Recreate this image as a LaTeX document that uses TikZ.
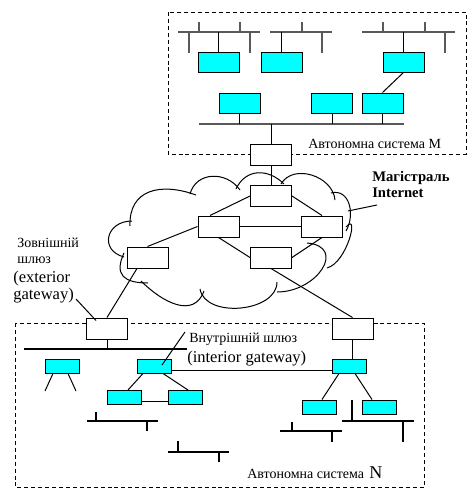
\documentclass[tikz,border=0pt]{standalone}
\usepackage{fontspec}
\setmainfont{Liberation Serif}
\usetikzlibrary{calc}
\definecolor{cyanbox}{RGB}{0,255,255}
\begin{document}
\begin{tikzpicture}[x=0.75pt,y=0.75pt,
  wbox/.style={draw=black, fill=white, line width=0.75pt, minimum width=30.75pt, minimum height=15.75pt, inner sep=0pt},
  cbox/.style={draw=black, fill=cyanbox, line width=0.75pt, minimum width=30.75pt, minimum height=15pt, inner sep=0pt},
  sbox/.style={cbox, minimum width=25.5pt, minimum height=10.5pt},
  bus/.style={line width=1.5pt, black!65},
  lbus/.style={line width=1.1pt, black},
  link/.style={line width=0.75pt, black},
  cloudline/.style={line width=0.75pt, black},
  asbox/.style={line width=0.75pt, dash pattern=on 3pt off 2.2pt},
  ua/.style={font=\fontsize{10.5}{12}\selectfont, inner sep=0pt, anchor=base west},
  en/.style={font=\fontsize{12.4}{14}\selectfont, inner sep=0pt, anchor=base west},
  bo/.style={font=\fontsize{11}{13}\selectfont\bfseries, inner sep=0pt, anchor=base west}]
\useasboundingbox (0,0) rectangle (472,-496);

% ---------- dashed autonomous system frames
\draw[asbox] (168,-12) rectangle (466,-154);
\draw[asbox] (15,-323) rectangle (424,-487);

% ---------- cloud
\draw[cloudline] (130,-226) to[out=92,in=160,looseness=1.3] (196,-195);
\draw[cloudline] (190,-194) to[out=75,in=125,looseness=1.2] (240,-190);
\draw[cloudline] (236,-189) to[out=65,in=135,looseness=1.2] (284,-184);
\draw[cloudline] (281,-184) to[out=60,in=95,looseness=1.1] (335,-200);
\draw[cloudline] (331,-193) to[out=15,in=60,looseness=1.2] (346,-231);
\draw[cloudline] (346,-227) to[out=50,in=15,looseness=1.2] (327,-268);
\draw[cloudline] (307,-243) to[out=-5,in=0,looseness=1.8] (277,-292);
\draw[cloudline] (277,-282) to[out=-90,in=-80,looseness=1.0] (200,-289);
\draw[cloudline] (204,-291) to[out=-110,in=-45,looseness=1.2] (141,-281);
\draw[cloudline] (148,-283) to[out=180,in=-115,looseness=1.6] (124,-253);
\draw[cloudline] (124,-257) to[out=165,in=180,looseness=1.8] (132,-221);

% ---------- top AS buses
\coordinate (busA) at (178,-32); \coordinate (busAe) at (260,-32);
\coordinate (busB) at (270,-32); \coordinate (busBe) at (332,-32);
\coordinate (busC) at (362,-32); \coordinate (busCe) at (455,-32);
\coordinate (busD) at (199,-124); \coordinate (busDe) at (404,-124);
\draw[bus] (busA) -- (busAe);
\draw[bus] (199,-22) -- (199,-32) (240,-22) -- (240,-32) (189,-32) -- (189,-53) (250,-32) -- (250,-53);
\draw[bus] (busB) -- (busBe);
\draw[bus] (302,-22) -- (302,-32) (322,-32) -- (322,-53);
\draw[bus] (busC) -- (busCe);
\draw[bus] (383,-22) -- (383,-32) (425,-22) -- (425,-32) (445,-32) -- (445,-53);
\draw[bus] (busD) -- (busDe);

% ---------- lower AS buses
\coordinate (busE) at (24,-349); \coordinate (busEe) at (187,-349);
\coordinate (busF) at (87,-421); \coordinate (busFe) at (158,-421);
\coordinate (busG) at (168,-452); \coordinate (busGe) at (229,-452);
\coordinate (busH) at (280,-431); \coordinate (busHe) at (342,-431);
\coordinate (busI) at (342,-421); \coordinate (busIe) at (414,-421);
\draw[lbus] (busE) -- (busEe);
\draw[lbus] (busF) -- (busFe);
\draw[lbus] (96,-412) -- (96,-421) (147,-421) -- (147,-431);
\draw[lbus] (busG) -- (busGe);
\draw[lbus] (178,-441) -- (178,-452) (219,-452) -- (219,-462);
\draw[lbus] (busH) -- (busHe);
\draw[lbus] (292,-422) -- (292,-431) (332,-431) -- (332,-442);
\draw[lbus] (busI) -- (busIe);
\draw[lbus] (352,-400) -- (352,-421) (403,-421) -- (403,-442);

% ---------- nodes (top AS)
\node[cbox] (C1) at (218.5,-62) {};
\node[cbox] (C2) at (281.5,-62) {};
\node[cbox] (C3) at (403.5,-62) {};
\node[cbox] (C4) at (239.5,-103) {};
\node[cbox] (C5) at (332,-103) {};
\node[cbox] (C6) at (382.5,-103) {};

% ---------- routers
\node[wbox] (RT) at (271,-155) {};
\node[wbox] (R1) at (271,-196) {};
\node[wbox] (R2) at (218.5,-226.5) {};
\node[wbox] (R3) at (322,-226.5) {};
\node[wbox] (R4) at (271,-257.5) {};
\node[wbox] (R5) at (147.5,-257.5) {};
\node[wbox] (RE) at (107,-328.5) {};
\node[wbox] (RR) at (352.5,-328.5) {};

% ---------- lower AS boxes
\node[sbox] (L1) at (62.5,-366) {};
\node[sbox] (L2) at (154.5,-366) {};
\node[sbox] (L3) at (124,-397.5) {};
\node[sbox] (L4) at (185.5,-397.5) {};
\node[sbox] (RC) at (349.5,-366) {};
\node[sbox] (R3c) at (319,-407) {};
\node[sbox] (R4c) at (379.5,-407) {};

% ---------- connectors top AS
\draw[link] (C1.north) -- (C1.north |- busA);
\draw[link] (C2.north) -- (C2.north |- busB);
\draw[link] (C3.north) -- (C3.north |- busC);
\draw[link] (C3.south) -- (C6.north);
\draw[link] (C4.south) -- (C4.south |- busD);
\draw[link] (C5.south) -- (C5.south |- busD);
\draw[link] (C6.south) -- (C6.south |- busD);
\draw[link] (RT.north) -- (RT.north |- busD);

% ---------- backbone connectors
\draw[link] (RT.south) -- (R1.north);
\draw[link] (R1.west) -- ($(R2.north)+(-8.5,0)$);
\draw[link] (R2.west) -- (R5.north);
\draw[link] (R1.east) -- (R3.north);
\draw[link] (R2.east) -- (R3.west);
\draw[link] (R2.south) -- (R4.west);
\draw[link] (R3.south) -- (R4.east);
\draw[link] ($(R5.south)+(-10.5,0)$) -- (RE.north);
\draw[link] (R4.south) -- (RR.north);

% ---------- lower AS connectors
\draw[link] (RE.south) -- (RE.south |- busE);
\draw[link] ($(L1.north)+(3,0)$) -- ($(L1.north)+(3,0)$ |- busE);
\draw[link] ($(L2.north)+(2.5,0)$) -- ($(L2.north)+(2.5,0)$ |- busE);
\coordinate (legA) at (45,-391); \coordinate (legB) at (76,-391);
\draw[link] ($(L1.south)+(-9.5,0)$) -- (legA);
\draw[link] ($(L1.south)+(5.5,0)$) -- (legB);
\draw[link] ($(L2.south)+(-11.5,0)$) -- ($(L3.north)+(4,0)$);
\draw[link] ($(L2.south)+(8.5,0)$) -- ($(L4.north)+(2.5,0)$);
\draw[link] ($(L3.east)+(0,-3.5)$) -- ($(L4.west)+(0,-3.5)$);
\draw[link] ($(L3.south)+(4,0)$) -- ($(L3.south)+(4,0)$ |- busF);
\draw[lbus] ($(L4.south)+(2.5,0)$) -- ($(L4.south)+(2.5,0)$ |- busG);
\draw[link] ($(L2.east)+(0,-4)$) -- ($(RC.west)+(0,-4)$);
\draw[link] (RR.south) -- (RR.south |- RC.north);
\draw[link] ($(RC.south)+(-10.5,0)$) -- ($(R3c.north)+(3,0)$);
\draw[link] ($(RC.south)+(5.5,0)$) -- ($(R4c.north)+(-7.5,0)$);
\draw[link] ($(R3c.south)+(-7,0)$) -- ($(R3c.south)+(-7,0)$ |- busH);
\draw[link] ($(R4c.south)+(3.5,0)$) -- ($(R4c.south)+(3.5,0)$ |- busI);

% ---------- texts
\node[ua] (asM) at (308,-148) {Автономна система М};
\node[bo] (mag1) at (372,-181) {Магістраль};
\node[bo] (mag2) at (372,-197) {Internet};
\node[ua] (gw1) at (17,-247) {Зовнішній};
\node[ua] (gw2) at (17,-263) {шлюз};
\node[en] (gw3) at (13,-282) {(exterior};
\node[en] (gw4) at (13,-299) {gateway)};
\node[ua] (ig1) at (189,-342) {Внутрішній шлюз};
\node[en] (ig2) at (187,-362) {(interior gateway)};
\node[ua] (asN) at (247,-478) {Автономна система\hspace{4pt}{\fontsize{13.5}{15}\selectfont N}};

% ---------- pointer lines
\coordinate (pMag) at (377,-205); \coordinate (pMagE) at (348,-211);
\draw[link] (pMag) -- (pMagE);
\coordinate (pExt) at (76,-299);
\draw[link] (pExt) -- ($(RE.north west)+(10,-3)$);
\coordinate (pInt) at (185,-332);
\draw[link] (pInt) -- ($(L2.center)+(7.5,1)$);
\end{tikzpicture}
\end{document}
